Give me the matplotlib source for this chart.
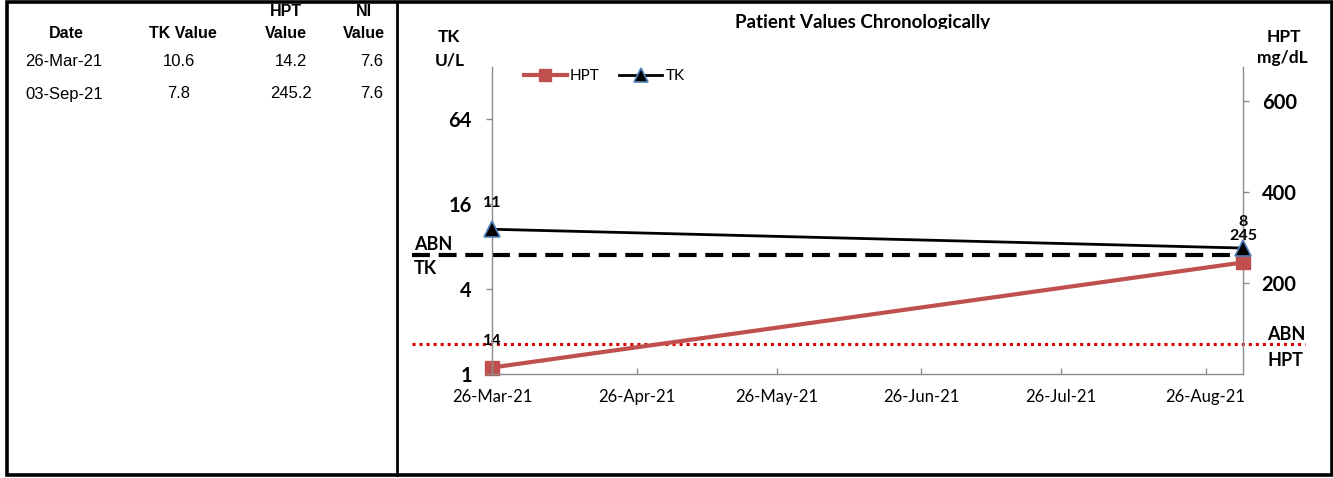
import datetime as dt

import matplotlib
matplotlib.use('Agg')
import matplotlib.pyplot as plt
import matplotlib.dates as mdates
from matplotlib.patches import Rectangle
from matplotlib.ticker import NullLocator, FixedLocator
from matplotlib.transforms import Bbox, TransformedBbox

# data
dates = [dt.date(2021, 3, 26), dt.date(2021, 9, 3)]
date_labels = ['26-Mar-21', '03-Sep-21']
tk_values = [10.6, 7.8]
hpt_values = [14.2, 245.2]
ni_values = [7.6, 7.6]
tk_abn = 7
hpt_abn = 66
tick_dates = [dt.date(2021, m, 26) for m in range(3, 9)]
tk_ticks = [1, 4, 16, 64]
hpt_ticks = [200, 400, 600]

plt.rcParams['font.family'] = ['Lato', 'DejaVu Sans']

W, H = 1333, 478
fig = plt.figure(figsize=(W / 100, H / 100), dpi=100)


def fx(px):
    return px / W


def fy(py):
    return 1 - py / H


axis_grey = '#8c8c8c'
hpt_red = '#c0504d'

# chart axes, left log2 axis for TK and right linear axis for HPT
ax = fig.add_axes([fx(492), fy(374), (1243 - 492) / W, (374 - 67) / H])
ax2 = ax.twinx()
ax.set_zorder(2)
ax2.set_zorder(1)
ax.patch.set_visible(False)

ax.set_yscale('log', base=2)
ax.set_ylim(1, 2 ** (307 / 42.5))
ax.yaxis.set_major_locator(FixedLocator(tk_ticks))
ax.yaxis.set_minor_locator(NullLocator())
ax.set_yticklabels([str(t) for t in tk_ticks])
ax2.set_ylim(0, 307 / 0.455)
ax2.set_yticks(hpt_ticks)

ax.set_xlim(dates[0], dates[-1])
ax.set_xticks(tick_dates)
ax.xaxis.set_major_formatter(mdates.DateFormatter('%d-%b-%y'))

for a in (ax, ax2):
    for s in a.spines.values():
        s.set_visible(False)
        s.set_color(axis_grey)
        s.set_linewidth(1.0)
ax.spines['left'].set_visible(True)
ax.spines['bottom'].set_visible(True)
ax2.spines['right'].set_visible(True)

ax.tick_params(axis='y', direction='out', length=4.5, width=1.0, color=axis_grey,
               pad=10, labelsize=14.5)
ax2.tick_params(axis='y', direction='out', length=4.5, width=1.0, color=axis_grey,
                pad=9, labelsize=14.5)
ax.tick_params(axis='x', direction='in', length=4.5, width=1.0, color=axis_grey,
               pad=11, labelsize=12)
for lab in ax.get_yticklabels() + ax2.get_yticklabels():
    lab.set_fontweight('bold')

# threshold lines
ax2.plot([-0.1065, 1.0826], [hpt_abn, hpt_abn], transform=ax2.get_yaxis_transform(),
         color='#dd0000', lw=2.2, dashes=(1, 1.3), dash_capstyle='butt',
         clip_on=False, zorder=1)
ax.plot([-0.1065, 0.985], [tk_abn, tk_abn], transform=ax.get_yaxis_transform(),
        color='black', lw=3, dashes=(4.3, 2.1), clip_on=False, zorder=1)

# series
hpt_line, = ax2.plot(dates, hpt_values, color=hpt_red, lw=3, marker='s', ms=10,
                     mfc=hpt_red, mec=hpt_red, clip_on=False, zorder=3)
tk_line, = ax.plot(dates, tk_values, color='black', lw=2, marker='^', ms=11.5,
                   mfc='black', mec='#4f81bd', mew=1.2, clip_on=False, zorder=3)

for d, v in zip(dates, tk_values):
    ax.annotate(f'{v:.0f}', (d, v), xytext=(0, 19), textcoords='offset points',
                ha='center', va='center', fontsize=11.5, fontweight='bold', zorder=4)
for d, v in zip(dates, hpt_values):
    ax2.annotate(f'{v:.0f}', (d, v), xytext=(0, 19), textcoords='offset points',
                 ha='center', va='center', fontsize=11.5, fontweight='bold', zorder=4)

fig.legend(handles=[hpt_line, tk_line], labels=['HPT', 'TK'], loc='center left',
           bbox_to_anchor=(fx(524), fy(76)), frameon=False, ncol=2,
           handlelength=2.8, handletextpad=0.2, columnspacing=1.3, borderpad=0,
           borderaxespad=0, fontsize=11, markerscale=0.85)

# axis captions and threshold labels
fig.text(fx(449), fy(37), 'TK', ha='center', va='center', fontsize=12.5, fontweight='bold')
fig.text(fx(450), fy(61), 'U/L', ha='center', va='center', fontsize=12.5, fontweight='bold')
fig.text(fx(1284), fy(37), 'HPT', ha='center', va='center', fontsize=12.5, fontweight='bold')
fig.text(fx(1282), fy(58), 'mg/dL', ha='center', va='center', fontsize=12.5, fontweight='bold')
fig.text(fx(414), fy(244), 'ABN', ha='left', va='center', fontsize=13, fontweight='bold')
fig.text(fx(414), fy(269), 'TK', ha='left', va='center', fontsize=13, fontweight='bold')
fig.text(fx(1305), fy(335), 'ABN', ha='right', va='center', fontsize=13, fontweight='bold')
fig.text(fx(1303), fy(360), 'HPT', ha='right', va='center', fontsize=13, fontweight='bold')

# title, cut off at the bottom like the reference
title = fig.text(fx(863), fy(28), 'Patient Values Chronologically', ha='center',
                 va='baseline', fontsize=13.5, fontweight='bold')
title.set_clip_on(True)
title.set_clip_box(TransformedBbox(Bbox([[0, fy(29)], [1, 1]]), fig.transFigure))

# table on the left
tfont = ['Liberation Sans', 'DejaVu Sans']
col_x = [66, 183, 286, 364]
fig.text(fx(col_x[2]), fy(12), 'HPT', ha='center', va='center', family=tfont,
         fontsize=11.5, fontweight='bold')
fig.text(fx(col_x[3]), fy(12), 'NI', ha='center', va='center', family=tfont,
         fontsize=11.5, fontweight='bold')
for x, txt in zip(col_x, ['Date', 'TK Value', 'Value', 'Value']):
    fig.text(fx(x), fy(34), txt, ha='center', va='center', family=tfont,
             fontsize=11.5, fontweight='bold')
row_y = [61, 94]
val_x = [64, 179, 291, 372]
for i, y in enumerate(row_y):
    cells = [date_labels[i], f'{tk_values[i]:.1f}', f'{hpt_values[i]:.1f}', f'{ni_values[i]:.1f}']
    for x, txt in zip(val_x, cells):
        fig.text(fx(x), fy(y), txt, ha='center', va='center', family=tfont, fontsize=12)

# frame and divider
fig.add_artist(Rectangle((fx(7), fy(475)), fx(1332) - fx(7), (475 - 1.5) / H,
                         transform=fig.transFigure, fill=False, ec='black', lw=2.6))
fig.add_artist(plt.Line2D([fx(397), fx(397)], [fy(475), fy(1.5)],
                          transform=fig.transFigure, color='black', lw=2))

fig.savefig('out.png', dpi=100)
